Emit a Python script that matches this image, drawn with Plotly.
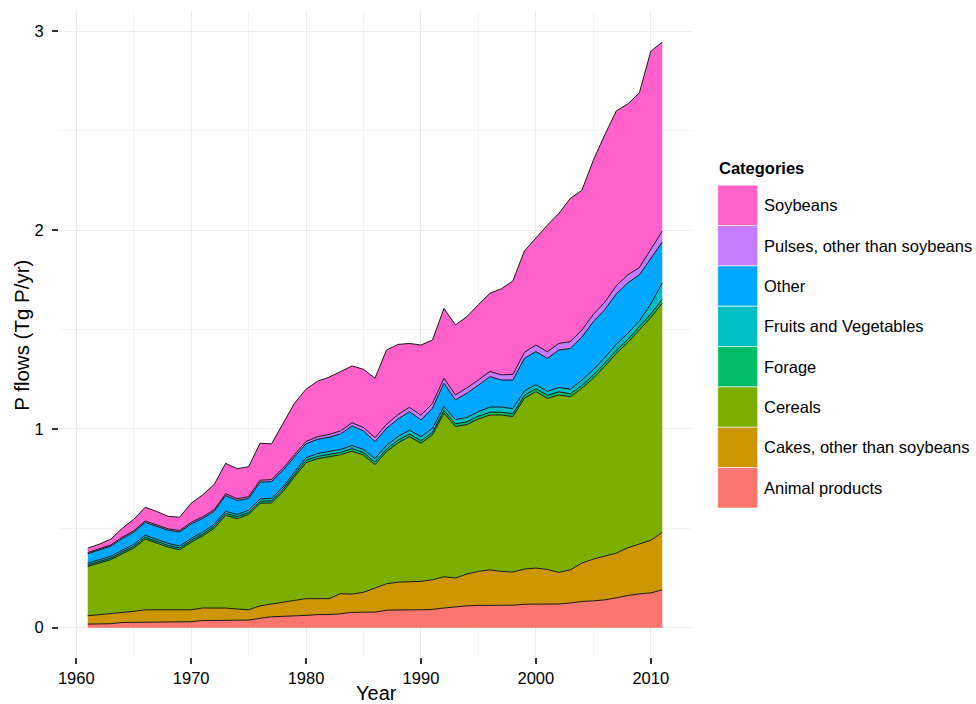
import plotly.graph_objects as go

# P flows by commodity category, Tg P per year, 1961-2011
years = list(range(1961, 2012))

categories = [
    "Animal products",
    "Cakes, other than soybeans",
    "Cereals",
    "Forage",
    "Fruits and Vegetables",
    "Other",
    "Pulses, other than soybeans",
    "Soybeans",
]
colors = ["#F8766D", "#CD9600", "#7CAE00", "#00BE67",
          "#00BFC4", "#00A9FF", "#C77CFF", "#FF61CC"]

animal = [0.018, 0.018, 0.020, 0.026, 0.027, 0.027, 0.027, 0.027, 0.028, 0.030,
          0.036, 0.037, 0.037, 0.037, 0.038, 0.047, 0.055, 0.057, 0.058, 0.062,
          0.066, 0.066, 0.070, 0.077, 0.078, 0.078, 0.088, 0.090, 0.090, 0.090,
          0.092, 0.099, 0.105, 0.110, 0.112, 0.112, 0.112, 0.113, 0.118, 0.119,
          0.119, 0.119, 0.124, 0.132, 0.135, 0.140, 0.150, 0.162, 0.170, 0.175, 0.190]

cakes = [0.042, 0.047, 0.050, 0.051, 0.055, 0.063, 0.063, 0.063, 0.062, 0.060,
         0.063, 0.062, 0.062, 0.057, 0.052, 0.063, 0.065, 0.070, 0.079, 0.084,
         0.080, 0.080, 0.101, 0.092, 0.100, 0.122, 0.133, 0.139, 0.140, 0.143,
         0.149, 0.157, 0.145, 0.160, 0.171, 0.179, 0.171, 0.167, 0.177, 0.181,
         0.174, 0.159, 0.167, 0.193, 0.210, 0.220, 0.225, 0.240, 0.250, 0.265, 0.289]

cereals = [0.248, 0.260, 0.272, 0.295, 0.318, 0.356, 0.335, 0.315, 0.302, 0.340,
           0.363, 0.401, 0.466, 0.454, 0.480, 0.516, 0.508, 0.558, 0.623, 0.684,
           0.704, 0.714, 0.699, 0.719, 0.690, 0.620, 0.665, 0.701, 0.731, 0.695,
           0.729, 0.823, 0.762, 0.752, 0.767, 0.779, 0.787, 0.782, 0.859, 0.888,
           0.861, 0.893, 0.871, 0.879, 0.910, 0.955, 1.005, 1.033, 1.077, 1.120, 1.153]

forage = [0.008, 0.008, 0.008, 0.009, 0.009, 0.009, 0.009, 0.009, 0.009, 0.009,
          0.009, 0.010, 0.010, 0.010, 0.010, 0.010, 0.011, 0.011, 0.011, 0.012,
          0.012, 0.012, 0.012, 0.013, 0.013, 0.013, 0.013, 0.013, 0.013, 0.013,
          0.013, 0.014, 0.014, 0.014, 0.014, 0.014, 0.014, 0.014, 0.015, 0.015,
          0.015, 0.015, 0.015, 0.015, 0.016, 0.016, 0.016, 0.016, 0.017, 0.018, 0.020]

fruits_veg = [0.009, 0.009, 0.009, 0.009, 0.010, 0.010, 0.010, 0.010, 0.010, 0.010,
              0.010, 0.010, 0.011, 0.011, 0.011, 0.012, 0.012, 0.012, 0.013, 0.013,
              0.014, 0.014, 0.015, 0.015, 0.016, 0.018, 0.018, 0.019, 0.019, 0.020,
              0.020, 0.020, 0.021, 0.022, 0.023, 0.026, 0.026, 0.026, 0.022, 0.020,
              0.020, 0.022, 0.023, 0.026, 0.027, 0.028, 0.030, 0.030, 0.028, 0.050, 0.082]

other = [0.047, 0.048, 0.051, 0.058, 0.061, 0.065, 0.066, 0.066, 0.071, 0.073,
         0.069, 0.065, 0.079, 0.071, 0.059, 0.084, 0.084, 0.084, 0.076, 0.070,
         0.072, 0.072, 0.078, 0.099, 0.093, 0.085, 0.086, 0.088, 0.094, 0.084,
         0.101, 0.117, 0.099, 0.122, 0.133, 0.153, 0.136, 0.144, 0.164, 0.166,
         0.166, 0.189, 0.205, 0.217, 0.242, 0.241, 0.254, 0.254, 0.233, 0.232, 0.206]

pulses = [0.006, 0.006, 0.006, 0.007, 0.007, 0.007, 0.007, 0.007, 0.007, 0.008,
          0.008, 0.008, 0.009, 0.009, 0.009, 0.010, 0.010, 0.011, 0.011, 0.012,
          0.013, 0.014, 0.015, 0.016, 0.017, 0.020, 0.020, 0.022, 0.022, 0.024,
          0.024, 0.025, 0.025, 0.026, 0.026, 0.026, 0.026, 0.028, 0.030, 0.033,
          0.033, 0.033, 0.034, 0.035, 0.036, 0.038, 0.040, 0.040, 0.036, 0.040, 0.055]

soybeans = [0.022, 0.024, 0.029, 0.045, 0.058, 0.069, 0.068, 0.063, 0.067, 0.096,
            0.110, 0.127, 0.153, 0.151, 0.151, 0.186, 0.180, 0.227, 0.259, 0.263,
            0.279, 0.288, 0.300, 0.286, 0.293, 0.299, 0.374, 0.353, 0.321, 0.353,
            0.319, 0.351, 0.352, 0.359, 0.379, 0.393, 0.433, 0.471, 0.510, 0.538,
            0.637, 0.654, 0.721, 0.703, 0.776, 0.842, 0.880, 0.860, 0.879, 1.000, 0.951]

series = [animal, cakes, cereals, forage, fruits_veg, other, pulses, soybeans]

x_ticks = [1960, 1970, 1980, 1990, 2000, 2010]
y_ticks = [0, 1, 2, 3]

FONT = "Liberation Sans, Arial, Helvetica, sans-serif"
W, H = 976, 704
L, R, T, B = 58.75, 284.75, 11.6, 46.6
PW, PH = W - L - R, H - T - B


def xp(px):
    return (px - L) / PW


def yp(py):
    return (H - B - py) / PH


fig = go.Figure()
for name, col, vals in zip(categories, colors, series):
    fig.add_trace(go.Scatter(
        x=years, y=vals, name=name, mode="lines",
        stackgroup="one", fillcolor=col,
        line=dict(color="rgba(15,15,15,0.95)", width=1.0),
        showlegend=False, hoverinfo="x+y+name",
    ))

axis_common = dict(
    showgrid=True, gridcolor="#EBEBEB", gridwidth=1,
    zeroline=False, showline=False,
    ticks="outside", ticklen=6, tickwidth=1.5, tickcolor="#333333",
    tickfont=dict(family=FONT, size=16.5, color="#000000"),
)

fig.update_xaxes(
    range=[1958.5, 2013.5], tickvals=x_ticks,
    minor=dict(dtick=5, tick0=1960, showgrid=True, gridcolor="#F4F4F4",
               gridwidth=0.6, ticks=""),
    **axis_common,
)
fig.update_yaxes(
    range=[-0.1475, 3.0975], tickvals=y_ticks,
    minor=dict(dtick=0.5, tick0=0, showgrid=True, gridcolor="#F4F4F4",
               gridwidth=0.6, ticks=""),
    ticklabelstandoff=5,
    **axis_common,
)

annotations = [
    dict(text="Year", xref="paper", yref="paper", x=xp(377), y=yp(693),
         xanchor="center", yanchor="middle", showarrow=False,
         font=dict(family=FONT, size=20, color="#000000")),
    dict(text="P flows (Tg P/yr)", xref="paper", yref="paper",
         x=xp(21.5), y=yp(335), textangle=-90,
         xanchor="center", yanchor="middle", showarrow=False,
         font=dict(family=FONT, size=20.5, color="#000000")),
    dict(text="<b>Categories</b>", xref="paper", yref="paper",
         x=xp(717), y=yp(168), xanchor="left", yanchor="middle",
         showarrow=False, font=dict(family=FONT, size=16.5, color="#000000")),
]

shapes = []
key_top, key_h = 185.0, 40.4
for i, (name, col) in enumerate(zip(categories[::-1], colors[::-1])):
    top = key_top + i * key_h
    shapes.append(dict(
        type="rect", xref="paper", yref="paper",
        x0=xp(718), x1=xp(758), y0=yp(top + key_h), y1=yp(top),
        fillcolor=col, line=dict(color="#FFFFFF", width=0.6), layer="above",
    ))
    annotations.append(dict(
        text=name, xref="paper", yref="paper",
        x=xp(762), y=yp(top + key_h / 2), xanchor="left", yanchor="middle",
        showarrow=False, font=dict(family=FONT, size=16.5, color="#000000"),
    ))

fig.update_layout(
    width=W, height=H,
    margin=dict(l=L, r=R, t=T, b=B, autoexpand=False),
    paper_bgcolor="white", plot_bgcolor="white",
    font=dict(family=FONT),
    annotations=annotations, shapes=shapes,
    showlegend=False,
)

fig.write_html("out.html")
